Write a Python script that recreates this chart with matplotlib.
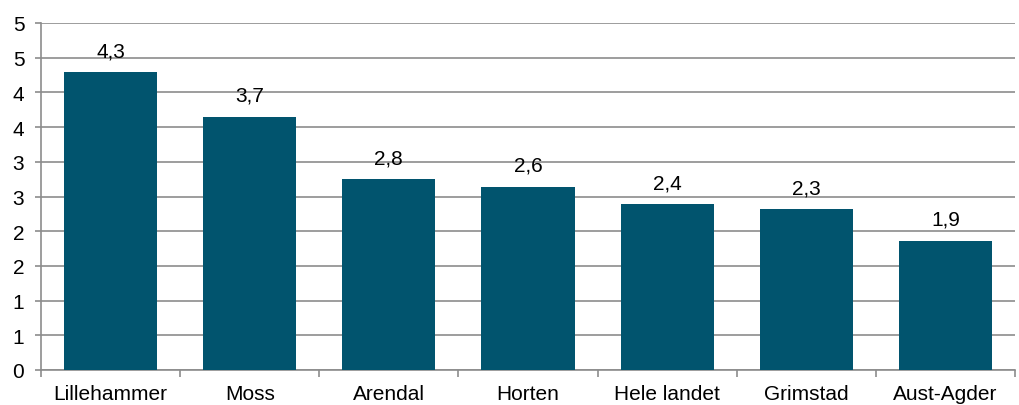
import matplotlib
matplotlib.use("Agg")
import matplotlib.pyplot as plt
import numpy as np

categories = ["Lillehammer", "Moss", "Arendal", "Horten", "Hele landet", "Grimstad", "Aust-Agder"]
values = [4.29, 3.65, 2.75, 2.64, 2.39, 2.32, 1.86]
data_labels = ["4,3", "3,7", "2,8", "2,6", "2,4", "2,3", "1,9"]
ytick_values = [0, 0.5, 1, 1.5, 2, 2.5, 3, 3.5, 4, 4.5, 5]
ytick_labels = ["0", "1", "1", "2", "2", "3", "3", "4", "4", "5", "5"]

plt.rcParams['font.family'] = ['Liberation Sans', 'DejaVu Sans']
W, H = 1019, 406
fig = plt.figure(figsize=(W / 100, H / 100), dpi=100)
ax = fig.add_axes([41 / W, (H - 371) / H, (1015 - 41) / W, (371 - 24) / H])

bar_color = "#01546E"
grid_color = "#8C8C8C"
fs = 15
x = np.arange(len(categories))
ax.bar(x, values, width=0.67, color=bar_color, zorder=3)
for xi, v, lab in zip(x, values, data_labels):
    ax.annotate(lab, (xi, v), xytext=(0, 11.5), textcoords="offset points",
                ha="center", va="baseline", fontsize=fs, color="#000000")

ax.set_xlim(-0.5, len(categories) - 0.5)
ax.set_ylim(0, 5)
ax.set_yticks(ytick_values)
ax.set_yticklabels(ytick_labels, fontsize=fs)
ax.yaxis.grid(True, color=grid_color, linewidth=1.2, zorder=0)
ax.set_axisbelow(True)

ax.set_xticks(x)
ax.set_xticklabels(categories, fontsize=fs)
ax.tick_params(axis="x", length=0, pad=10)
ax.set_xticks(np.arange(-0.5, len(categories) + 0.5, 1), minor=True)
ax.tick_params(axis="x", which="minor", length=5, color=grid_color, width=1.2)
ax.tick_params(axis="y", length=4.5, color=grid_color, width=1.2, pad=7.5)

for s in ["top", "right"]:
    ax.spines[s].set_visible(False)
for s in ["left", "bottom"]:
    ax.spines[s].set_color(grid_color)
    ax.spines[s].set_linewidth(1.2)

fig.savefig("out.png", dpi=100)
